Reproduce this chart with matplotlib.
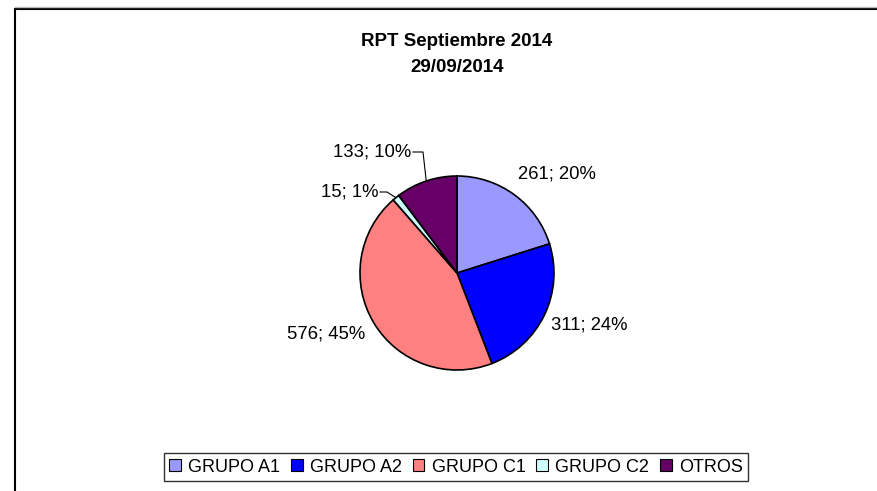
import matplotlib
matplotlib.use("Agg")
import matplotlib.pyplot as plt
from matplotlib.patches import Rectangle, Patch
import numpy as np

# ---- data ----
categories = ["GRUPO A1", "GRUPO A2", "GRUPO C1", "GRUPO C2", "OTROS"]
values = [261, 311, 576, 15, 133]
percents = [20, 24, 45, 1, 10]
colors = ["#9999FF", "#0000FF", "#FF8080", "#CCFFFF", "#660066"]
title_lines = ["RPT Septiembre 2014", "29/09/2014"]

plt.rcParams['font.family'] = ['Liberation Sans', 'DejaVu Sans']

W, H = 877, 491
fig = plt.figure(figsize=(W / 100, H / 100), dpi=100)
ax = fig.add_axes([0, 0, 1, 1])
ax.set_xlim(0, W)
ax.set_ylim(0, H)
ax.set_aspect('equal')
ax.axis('off')

# chart frame (extends past right/bottom edges)
ax.add_patch(Rectangle((15, -20), W + 40, H - 9 + 20, fill=False,
                       edgecolor='black', linewidth=1.5))
ax.plot([15, W], [H - 7, H - 7], color='#BBBBBB', linewidth=1)

# title
ax.text(457, H - 41, title_lines[0], ha='center', va='center',
        fontsize=13.5, fontweight='bold')
ax.text(457, H - 67, title_lines[1], ha='center', va='center',
        fontsize=13.5, fontweight='bold')

cx, cy, r = 457, H - 273, 97
wedges, _ = ax.pie(values, colors=colors, startangle=90, counterclock=False,
                   center=(cx, cy), radius=r,
                   wedgeprops=dict(edgecolor='black', linewidth=1.2))
ax.set_xlim(0, W)
ax.set_ylim(0, H)

# label placement (pixel positions of label centers)
label_pos = [(557, 174), (589, 325), (326, 334), (350, 192), (372, 152)]
fs = 13.3
for i, (v, p) in enumerate(zip(values, percents)):
    lx, ly = label_pos[i]
    ax.text(lx, H - ly, f"{v}; {p}%", ha='center', va='center', fontsize=fs)

# leader lines for small slices
def edge_point(w):
    ang = np.deg2rad((w.theta1 + w.theta2) / 2)
    return cx + r * np.cos(ang), cy + r * np.sin(ang)

ex, ey = edge_point(wedges[4])
ax.plot([413, 423, ex], [H - 152, H - 152, ey], color='black', linewidth=0.8)
ex, ey = edge_point(wedges[3])
ax.plot([380, 387, ex], [H - 192, H - 192, ey], color='black', linewidth=0.8)

handles = [Patch(facecolor=c, edgecolor='black', linewidth=0.8) for c in colors]
leg = fig.legend(handles, categories, loc='center', bbox_to_anchor=(456 / W, 1 - 467 / H),
                 ncol=5, fontsize=13, frameon=True, fancybox=False,
                 handlelength=0.65, handleheight=0.65, handletextpad=0.4,
                 columnspacing=0.6, borderpad=0.3, borderaxespad=0)
leg.get_frame().set_edgecolor('black')
leg.get_frame().set_linewidth(1.0)

fig.savefig("out.png", dpi=100)
